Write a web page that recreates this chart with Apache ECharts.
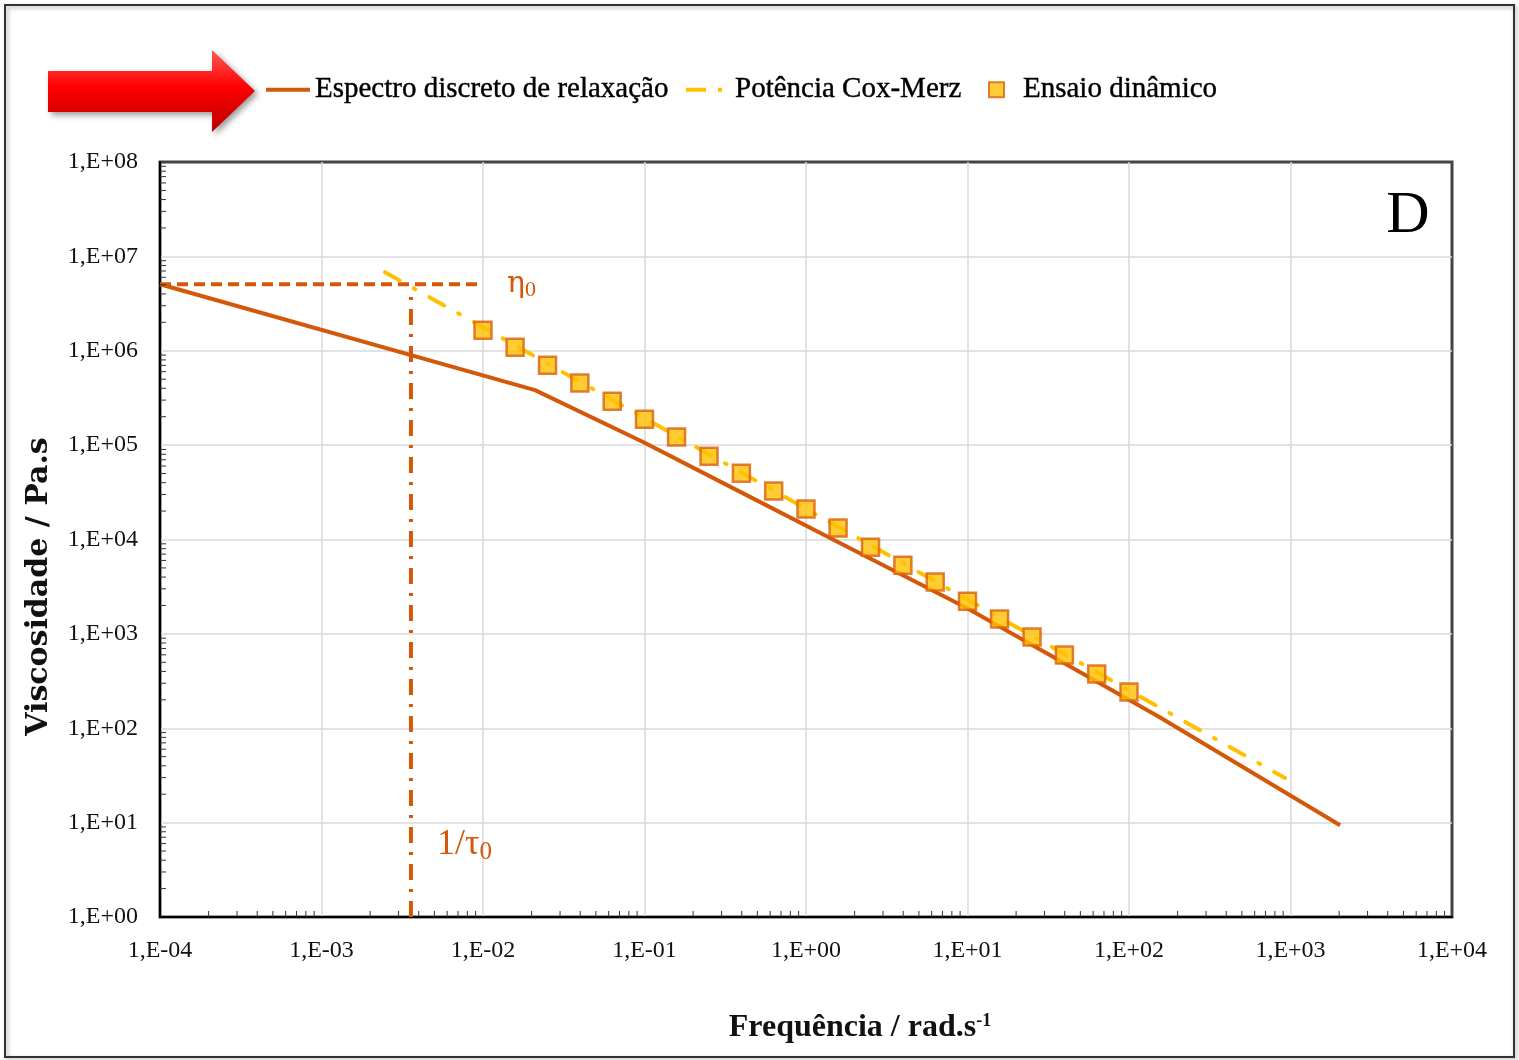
<!DOCTYPE html>
<html lang="pt">
<head>
    <meta charset="utf-8">
    <title>Viscosidade - Espectro discreto de relaxação</title>
    <script type="text/javascript" src="https://cdn.jsdelivr.net/npm/echarts@6/dist/echarts.min.js"></script>
    <style>
        html, body { margin: 0; padding: 0; background: #fff; }
    </style>
</head>
<body>
<div id="main" style="width: 1519px;height:1060px;"></div>
<script type="text/javascript">
    // dados
    var relaxFreq = [1e-4, 0.021, 0.098, 0.353, 1.62, 9.9, 155, 2028];
    var relaxVisc = [5.07e6, 3.83e5, 1.08e5, 3.5e4, 9.2e3, 1.88e3, 131, 9.4];

    var coxFreq = [0.00247, 925];
    var coxVisc = [6.8e6, 29.7];

    var dynFreq = [0.01, 0.0158, 0.0251, 0.0398, 0.0631, 0.1, 0.158, 0.251, 0.398, 0.631,
        1, 1.58, 2.51, 3.98, 6.31, 10, 15.8, 25.1, 39.8, 63.1, 100];
    var dynVisc = [1.65e6, 1.09e6, 7.0e5, 4.54e5, 2.92e5, 1.88e5, 1.22e5, 7.6e4, 5.05e4, 3.26e4,
        2.1e4, 1.32e4, 8.3e3, 5.35e3, 3.54e3, 2.22e3, 1.44e3, 925, 596, 375, 242];

    var eta0 = 5.07e6;          // viscosidade zero
    var freq0 = 0.00358;        // 1/tau0
    var eta0LineEnd = 0.01;

    var xTicks = [-4, -3, -2, -1, 0, 1, 2, 3, 4];   // expoentes
    var yTicks = [0, 1, 2, 3, 4, 5, 6, 7, 8];

    var orange = '#D4580A';
    var yellow = '#FFC000';
    var serif = '"Liberation Serif", "DejaVu Serif", serif';

    function zip(a, b) {
        return a.map(function (v, i) { return [v, b[i]]; });
    }

    function expLabel(value) {
        var e = Math.round(Math.log(value) / Math.LN10);
        var s = Math.abs(e) < 10 ? '0' + Math.abs(e) : '' + Math.abs(e);
        return '1,E' + (e < 0 ? '-' : '+') + s;
    }

    // marcas menores da escala log (2..9 em cada década)
    function minorValues(exps) {
        var out = [];
        for (var i = 0; i < exps.length - 1; i++) {
            for (var k = 2; k <= 9; k++) out.push([k * Math.pow(10, exps[i])]);
        }
        return out;
    }

    var myChart = echarts.init(document.getElementById('main'));

    var legendText = { fontFamily: serif, fontSize: 29, color: '#000', textBorderColor: '#000', textBorderWidth: 0.4 };

    var option = {
        animation: false,
        backgroundColor: '#fff',
        grid: {
            left: 160, right: 67, top: 162, bottom: 143,
            show: true, borderColor: '#444', borderWidth: 3
        },
        legend: [{
            data: ['Espectro discreto de relaxação'],
            left: 266, top: 75, padding: 0,
            icon: 'rect', itemWidth: 44, itemHeight: 4,
            textStyle: legendText
        }, {
            data: ['Potência Cox-Merz'],
            left: 686, top: 75, padding: 0,
            icon: 'path://M0,0H20V4H0Z M32,0H36V4H32Z',
            itemWidth: 36, itemHeight: 4,
            textStyle: Object.assign({ padding: [0, 0, 0, 8] }, legendText)
        }, {
            data: ['Ensaio dinâmico'],
            left: 988, top: 75, padding: 0,
            icon: 'rect', itemWidth: 15, itemHeight: 15,
            textStyle: Object.assign({ padding: [0, 0, 0, 14] }, legendText)
        }],
        xAxis: {
            type: 'log', logBase: 10,
            min: 1e-4, max: 1e4, splitNumber: 8,
            name: 'Frequência / rad.s{sup|-1}',
            nameLocation: 'middle', nameGap: 95,
            nameTextStyle: {
                fontFamily: serif, fontSize: 32, fontWeight: 'bold', color: '#111',
                padding: [0, 0, 0, 108],
                rich: { sup: { fontFamily: serif, fontSize: 18, fontWeight: 'bold', verticalAlign: 'top', padding: [0, 0, 14, 0] } }
            },
            axisLine: { lineStyle: { color: '#000', width: 2 } },
            axisTick: { show: false },
            axisLabel: {
                formatter: expLabel, margin: 22,
                fontFamily: serif, fontSize: 24, color: '#111'
            },
            splitLine: { showMaxLine: false, lineStyle: { color: '#d9d9d9', width: 1.5 } }
        },
        yAxis: {
            type: 'log', logBase: 10,
            min: 1, max: 1e8, splitNumber: 8,
            name: 'Viscosidade / Pa.s',
            nameLocation: 'middle', nameGap: 106,
            nameTextStyle: {
                fontFamily: '"DejaVu Serif", serif', fontSize: 30, fontWeight: 'bold', color: '#111',
                padding: [0, 94, 0, 0]
            },
            axisLine: { lineStyle: { color: '#000', width: 2 } },
            axisTick: { show: false },
            axisLabel: {
                formatter: expLabel, margin: 22,
                fontFamily: serif, fontSize: 24, color: '#111'
            },
            splitLine: { showMaxLine: false, lineStyle: { color: '#d9d9d9', width: 1.5 } }
        },
        series: [{
            name: 'Espectro discreto de relaxação',
            type: 'line',
            data: zip(relaxFreq, relaxVisc),
            symbol: 'none',
            lineStyle: { color: orange, width: 4 },
            itemStyle: { color: orange },
            z: 3
        }, {
            name: 'Potência Cox-Merz',
            type: 'line',
            data: zip(coxFreq, coxVisc),
            symbol: 'none',
            lineStyle: { color: yellow, width: 4, type: [17, 16, 2, 16], cap: 'round' },
            itemStyle: { color: yellow },
            z: 4
        }, {
            name: 'Ensaio dinâmico',
            type: 'scatter',
            data: zip(dynFreq, dynVisc),
            symbol: 'rect',
            symbolSize: 17,
            itemStyle: { color: yellow, borderColor: '#DC5F0C', borderWidth: 2.5 },
            z: 5
        }, {
            // linha de eta0
            type: 'line',
            data: [[1e-4, eta0], [eta0LineEnd, eta0]],
            symbol: 'none', silent: true,
            lineStyle: { color: orange, width: 4, type: [11, 6] },
            z: 2
        }, {
            // linha de 1/tau0
            type: 'line',
            data: [[freq0, 1], [freq0, eta0 * 0.9]],
            symbol: 'none', silent: true,
            lineStyle: { color: orange, width: 4, type: [16, 9, 3, 9] },
            z: 2
        }, {
            // marcas menores eixo x
            type: 'custom', silent: true,
            data: minorValues(xTicks),
            renderItem: function (params, api) {
                var p = api.coord([api.value(0), 1]);
                return { type: 'line', shape: { x1: p[0], y1: p[1], x2: p[0], y2: p[1] - 6 },
                    style: { stroke: '#333', lineWidth: 1 } };
            },
            z: 6
        }, {
            // marcas menores eixo y
            type: 'custom', silent: true,
            data: minorValues(yTicks).map(function (d) { return [1e-4, d[0]]; }),
            renderItem: function (params, api) {
                var p = api.coord([1e-4, api.value(1)]);
                return { type: 'line', shape: { x1: p[0], y1: p[1], x2: p[0] + 6, y2: p[1] },
                    style: { stroke: '#333', lineWidth: 1 } };
            },
            z: 6
        }]
    };

    myChart.setOption(option);

    // textos e seta
    var pEta = myChart.convertToPixel({ gridIndex: 0 }, [0.0141, eta0]);
    var pTau = myChart.convertToPixel({ gridIndex: 0 }, [0.00519, 5.8]);

    myChart.setOption({
        graphic: [{
            type: 'rect', silent: true,
            shape: { x: 5, y: 5, width: 1509, height: 1052 },
            style: { fill: 'none', stroke: '#333', lineWidth: 2, shadowBlur: 4, shadowColor: 'rgba(0,0,0,0.35)', shadowOffsetX: 2, shadowOffsetY: 2 }
        }, {
            type: 'polygon', silent: true,
            shape: { points: [[48, 71], [212, 71], [212, 50], [255, 91], [212, 132], [212, 112], [48, 112]] },
            style: {
                fill: new echarts.graphic.LinearGradient(0, 0, 0, 1, [
                    { offset: 0, color: '#ff5a5a' },
                    { offset: 0.45, color: '#ff0000' },
                    { offset: 1, color: '#b80000' }
                ]),
                shadowBlur: 6, shadowOffsetX: 3, shadowOffsetY: 3, shadowColor: 'rgba(0,0,0,0.4)'
            }
        }, {
            type: 'text', silent: true,
            x: 1408, y: 216,
            style: { text: 'D', font: '60px ' + serif, fill: '#000', align: 'center', verticalAlign: 'middle' }
        }, {
            type: 'text', silent: true,
            x: pEta[0], y: pEta[1],
            style: {
                text: '{a|η}{b|0}', align: 'left', verticalAlign: 'middle',
                rich: {
                    a: { fontFamily: '"DejaVu Serif", serif', fontSize: 30, fill: orange, color: orange },
                    b: { fontFamily: serif, fontSize: 22, fill: orange, color: orange, padding: [12, 0, 0, 0] }
                }
            }
        }, {
            type: 'text', silent: true,
            x: pTau[0], y: pTau[1],
            style: {
                text: '{a|1/τ}{b|0}', align: 'left', verticalAlign: 'middle',
                rich: {
                    a: { fontFamily: serif, fontSize: 36, fill: orange, color: orange },
                    b: { fontFamily: serif, fontSize: 25, fill: orange, color: orange, padding: [14, 0, 0, 0] }
                }
            }
        }]
    });
</script>
</body>
</html>
